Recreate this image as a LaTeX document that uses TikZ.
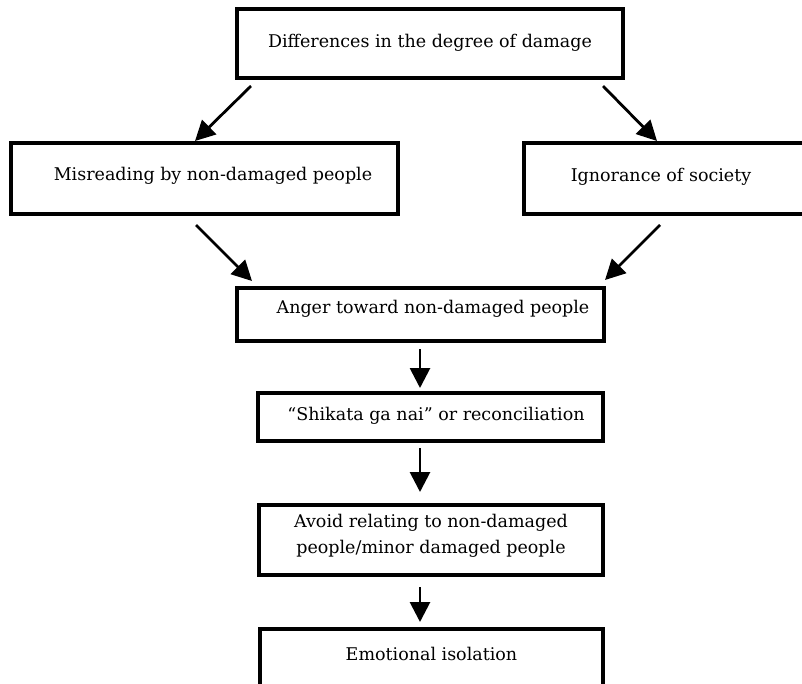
\documentclass[tikz,border=0pt]{standalone}
\usepackage{fontspec}
\setmainfont{DejaVu Serif}
\usetikzlibrary{arrows.meta}
\begin{document}
\begin{tikzpicture}[x=1pt,y=-1pt,
  box/.style={draw=black,line width=4pt,rectangle,inner sep=0pt,
    font=\fontsize{17.5}{26}\selectfont,text height=12pt},
  arr/.style={line width=2.8pt,-{Triangle[length=20pt,width=20pt]}}]
\useasboundingbox[fill=white] (0,0) rectangle (802,683);
\node[box,minimum width=386pt,minimum height=69pt,text depth=5pt] (top) at (430,43.5) {Differences in the degree of damage};
\node[box,minimum width=387pt,minimum height=71pt,text depth=9pt] (left) at (204.5,178.5) {\hspace*{17pt}Misreading by non-damaged people};
\node[box,minimum width=282pt,minimum height=71pt,text depth=7pt] (right) at (665,178.5) {Ignorance of society\hspace*{8pt}};
\node[box,minimum width=367pt,minimum height=53pt,text depth=15pt] (anger) at (420.5,314.5) {\hspace*{25pt}Anger toward non-damaged people};
\node[box,minimum width=345pt,minimum height=48pt,text depth=6pt] (shik) at (430.5,417) {\hspace*{11pt}“Shikata ga nai” or reconciliation};
\node[box,minimum width=344pt,minimum height=70pt,align=center,text height=26pt,text depth=0pt] (avoid) at (431,540) {Avoid relating to non-damaged\\people/minor damaged people};
\node[box,minimum width=343pt,minimum height=63pt,text depth=13pt] (emot) at (431.5,660.5) {Emotional isolation};
\coordinate (a1s) at (251,86);  \coordinate (a1e) at (195,141);
\coordinate (a2s) at (603,86);  \coordinate (a2e) at (657,141);
\coordinate (a3s) at (196,225); \coordinate (a3e) at (252,281);
\coordinate (a4s) at (660,225); \coordinate (a4e) at (605,280);
\coordinate (v1s) at (420,349); \coordinate (v1e) at (420,388);
\coordinate (v2s) at (420,448); \coordinate (v2e) at (420,492);
\coordinate (v3s) at (420,587); \coordinate (v3e) at (420,622);
\draw[arr] (a1s) -- (a1e);
\draw[arr] (a2s) -- (a2e);
\draw[arr] (a3s) -- (a3e);
\draw[arr] (a4s) -- (a4e);
\draw[arr] (v1s) -- (v1e);
\draw[arr] (v2s) -- (v2e);
\draw[arr] (v3s) -- (v3e);
\end{tikzpicture}
\end{document}
